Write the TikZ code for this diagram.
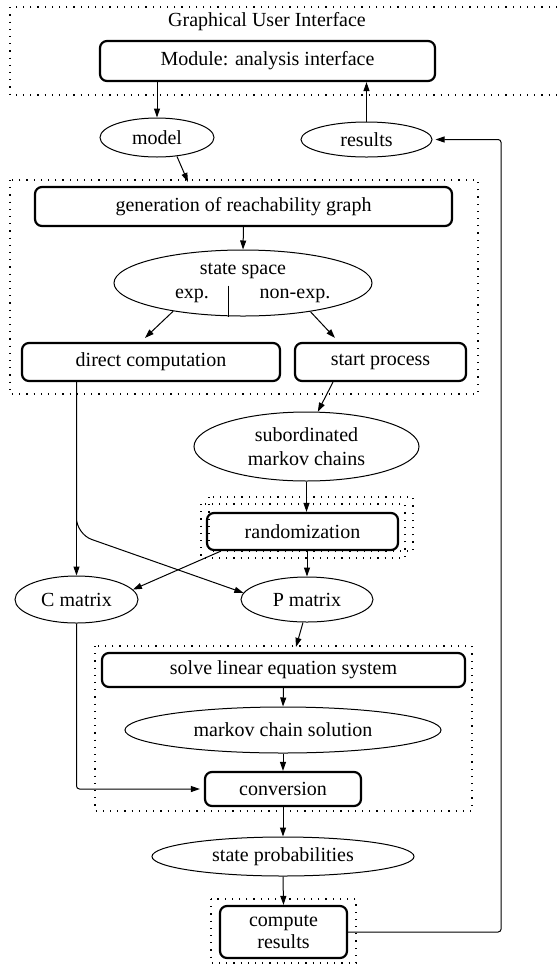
\documentclass[tikz,border=0pt]{standalone}
\usepackage{fontspec}
\setmainfont{Liberation Serif}
\usetikzlibrary{arrows.meta,calc,shapes.geometric}
\begin{document}
\begin{tikzpicture}[x=0.5pt,y=-0.5pt,
  every node/.style={font=\fontsize{10}{12}\selectfont, inner sep=0pt, align=center},
  proc/.style={draw, line width=1.1pt, rounded corners=3.5pt, rectangle},
  data/.style={draw, line width=0.5pt, ellipse},
  grp/.style={line width=0.6pt, dash pattern=on 0.6pt off 3pt},
  arr/.style={line width=0.5pt, -{Triangle[length=4.5pt,width=3pt]}},
]
\useasboundingbox (0,0) rectangle (557,965);

% group frames
\draw[grp] (557,7) -- (10,7) -- (10,95) -- (557,95);
\draw[grp] (10,180) rectangle (478,394);
\draw[grp] (201,504) rectangle (405,558);
\draw[grp] (209,497) rectangle (413,551);
\draw[grp] (95,646) rectangle (472,811);
\draw[grp] (211,899) rectangle (356,963);

% nodes
\node (gui) at (267,22) {Graphical User Interface};
\node[proc, minimum width=167.5pt, minimum height=20pt] (module) at (267.5,61) {Module: analysis interface};
\node[data, minimum width=57pt, minimum height=19.5pt] (model) at (157,137.5) {model};
\node[data, minimum width=65.5pt, minimum height=17.5pt] (results) at (366.5,139.5) {results};
\node[proc, minimum width=208.5pt, minimum height=19.5pt] (gen) at (243.5,206.5) {generation of reachability graph};
\node[data, minimum width=129pt, minimum height=33pt] (ss) at (243,283) {};
\node (sstitle) at (243,271) {state space};
\node (ssexp) at (192,296) {exp.};
\node (ssnon) at (295,296) {non-exp.};
\node[proc, minimum width=129pt, minimum height=19pt] (direct) at (151,362) {direct computation};
\node[proc, minimum width=85.5pt, minimum height=19pt] (start) at (380.5,362) {start process};
\node[data, minimum width=112.5pt, minimum height=34.5pt] (subord) at (306.5,446.5) {subordinated\\markov chains};
\node[proc, minimum width=95.5pt, minimum height=18.5pt] (random) at (302.5,531.5) {randomization};
\node[data, minimum width=61.5pt, minimum height=23.5pt] (cmat) at (76.5,599.5) {C matrix};
\node[data, minimum width=66pt, minimum height=22.5pt] (pmat) at (307,599.5) {P matrix};
\node[proc, minimum width=181.5pt, minimum height=17pt] (solve) at (283.5,670) {solve linear equation system};
\node[data, minimum width=158pt, minimum height=23pt] (mcs) at (283,730) {markov chain solution};
\node[proc, minimum width=78pt, minimum height=17pt] (conv) at (283,789) {conversion};
\node[data, minimum width=131pt, minimum height=19.5pt] (sprob) at (283,856.5) {state probabilities};
\node[proc, minimum width=63.5pt, minimum height=26pt, font=\fontsize{10}{11}\selectfont] (compute) at (283.5,932) {compute\\results};

% divider inside state space
\draw[line width=0.5pt] ($(ss.south)+(-15,-31)$) -- ($(ss.south)+(-15,0)$);

% connectors
\draw[arr] (model.north |- module.south) -- (model.north);
\draw[arr] (results.north) -- (results.north |- module.south);
\draw[arr] ($(model.south)+(20,-1)$) -- ($(gen.north)+(-55.5,-4)$);
\draw[arr] (gen.south) -- (ss.north);
\draw[arr] (ss.202) -- ($(direct.north)+(-6,-4)$);
\draw[arr] (ss.337) -- ($(start.north)+(-45.5,-4)$);
\draw[arr] (direct.south -| cmat.north) -- (cmat.north);
\draw[arr, rounded corners=8pt] (direct.south -| cmat.north) -- ++(0,152) -- (pmat.174);
\draw[arr] ($(start.south)+(-47.5,0)$) -- (subord.72);
\draw[arr] (subord.south) -- (subord.south |- random.north);
\draw[arr] (random.south -| pmat.north) -- (pmat.north);
\draw[arr] ($(random.south west)+(15,0)$) -- (cmat.10);
\draw[arr] ($(pmat.south)+(-4,0)$) -- ($(solve.north)+(12.5,-5)$);
\draw[arr] (solve.south) -- (mcs.north);
\draw[arr] (mcs.south) -- (conv.north);
\draw[arr, rounded corners=1.5pt, shorten >=2pt] (cmat.south) |- (conv.west);
\draw[arr] (conv.south) -- (sprob.north);
\draw[arr] (sprob.south) -- (compute.north);
\draw[arr, rounded corners=1.5pt, shorten >=1.5pt] (compute.east) -- ++(153,0) |- (results.east);
\end{tikzpicture}
\end{document}
